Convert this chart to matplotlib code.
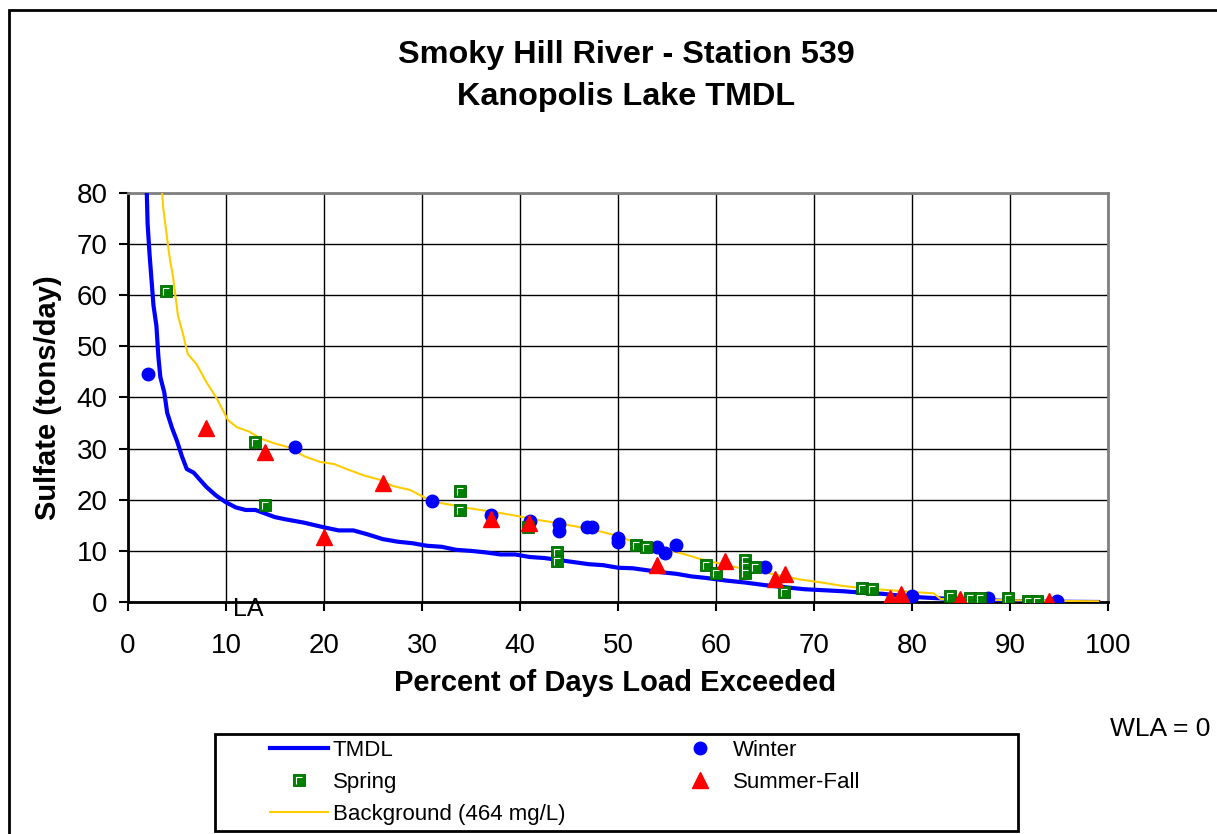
import matplotlib
matplotlib.use("Agg")
import matplotlib.pyplot as plt
from matplotlib.path import Path
from matplotlib.patches import Rectangle

plt.rcParams['font.family'] = ['Liberation Sans', 'DejaVu Sans']

# ---- data ----
tmdl_x = [1.85, 2.0, 2.2, 2.4, 2.6, 2.9, 3.1, 3.3, 3.7, 4.0, 4.5, 5.0, 5.5, 6.0, 6.7, 7.3,
          8.0, 9.0, 10.0, 11.0, 12.0, 13.0, 14.0, 15.0, 16.0, 18.0, 20.0, 21.5, 23.0, 24.5,
          26.0, 27.5, 29.0, 30.5, 32.0, 33.5, 35.0, 36.5, 38.0, 39.5, 41.0, 42.5, 44.0, 45.5,
          47.0, 48.5, 50.0, 51.5, 53.0, 54.5, 56.0, 57.5, 59.0, 61.0, 63.0, 65.0, 67.0, 69.0,
          71.0, 73.0, 75.0, 77.0, 79.0, 81.0, 83.0, 85.0, 87.0, 89.0, 91.0, 93.0, 95.0, 99.0]
tmdl_y = [85, 74, 68, 63, 58, 54, 48, 44, 41, 37, 34, 31.5, 28.5, 26, 25.3, 24,
          22.5, 20.8, 19.5, 18.5, 18, 18, 17.3, 16.6, 16.2, 15.5, 14.6, 14, 14, 13.2,
          12.3, 11.8, 11.5, 11, 10.8, 10.2, 10.0, 9.7, 9.3, 9.3, 8.8, 8.6, 8.2, 7.8,
          7.4, 7.2, 6.7, 6.6, 6.2, 5.8, 5.5, 5.0, 4.7, 4.2, 3.8, 3.3, 2.9, 2.5,
          2.3, 2.1, 1.8, 1.6, 1.2, 0.9, 0.7, 0.5, 0.4, 0.25, 0.15, 0.1, 0.05, 0.0]

bg_x = [3.4, 3.6, 4.0, 4.2, 4.6, 5.1, 5.6, 6.1, 7.0, 8.0, 9.0, 10.2, 11.1, 12.4, 13.5, 15.0,
        16.5, 18.0, 19.6, 21.0, 22.6, 24.0, 25.7, 27.0, 28.8, 31.1, 33.0, 34.6, 36.0, 38.0,
        39.5, 41.3, 43.0, 44.8, 46.5, 48.2, 50.0, 51.5, 53.3, 55.0, 56.7, 58.4, 60.0, 61.8,
        63.5, 65.2, 67.0, 68.6, 70.1, 71.5, 72.7, 74.5, 76.4, 78.5, 80.5, 82.2, 82.9, 85.0,
        88.0, 92.0, 95.0, 99.0]
bg_y = [82, 77, 71, 68, 63.5, 56, 52.5, 48.5, 46.5, 43, 40, 35.6, 34.2, 33.3, 32, 31,
        30.2, 28.5, 27.4, 27, 25.8, 24.8, 23.9, 22.7, 21.9, 19.6, 19, 18.4, 18, 17.4,
        16.9, 16.2, 15.7, 15.1, 14.5, 13.8, 12.9, 11.8, 11.0, 10.2, 9.4, 8.4, 7.7, 6.9,
        6.3, 5.7, 5.0, 4.4, 4.0, 3.6, 3.2, 2.8, 2.5, 2.2, 1.9, 1.7, 0.6, 0.5,
        0.4, 0.3, 0.2, 0.15]

winter_x = [2, 17, 31, 37, 41, 44, 44, 46.8, 47.3, 50, 50, 54, 54.8, 55.9, 65, 80, 87.8, 94.8]
winter_y = [44.5, 30.3, 19.8, 17, 15.8, 15.2, 13.9, 14.7, 14.7, 12.6, 11.8, 10.8, 9.6, 11.1,
            6.9, 1.2, 0.85, 0.25]

spring_x = [3.9, 13, 14, 33.9, 33.9, 40.8, 43.8, 43.8, 51.8, 52.9, 59, 60, 63, 63, 63, 64,
            66.9, 74.9, 75.9, 83.9, 85.9, 86.9, 89.8, 91.8, 92.8]
spring_y = [60.8, 31.2, 19, 21.8, 17.9, 14.7, 9.8, 8.0, 11.1, 10.8, 7.3, 5.7, 8.3, 7.0, 5.6, 6.9,
            2.0, 2.8, 2.5, 1.2, 0.85, 0.85, 0.85, 0.25, 0.25]

summer_x = [8, 14, 20, 26, 37, 40.9, 54, 60.9, 66, 67, 77.8, 78.9, 84.9, 94]
summer_y = [34, 29.3, 12.8, 23.3, 16.2, 15.5, 7.2, 8.0, 4.5, 5.4, 0.8, 1.6, 0.6, 0.1]

W, H = 1217, 834
fig = plt.figure(figsize=(W / 100, H / 100), dpi=100)
ax = fig.add_axes([128 / W, 1 - 602 / H, 980 / W, 409 / H])

ln_tmdl, = ax.plot(tmdl_x, tmdl_y, color='#0000FF', lw=3, zorder=3, label='TMDL')
ln_bg, = ax.plot(bg_x, bg_y, color='#FFCC00', lw=1.5, zorder=4, label='Background (464 mg/L)')
ln_win, = ax.plot(winter_x, winter_y, ls='none', marker='o', ms=9, color='#0000FF',
                  zorder=5, label='Winter')
ln_spr, = ax.plot(spring_x, spring_y, ls='none', marker='s', ms=8.4, mfc='#008000',
                  mec='#006400', mew=0.6, zorder=6)
# white corner highlight inside the spring squares
corner = Path([(-0.3, -0.35), (-0.3, 0.3), (0.3, 0.3)])
ln_spr2, = ax.plot(spring_x, spring_y, ls='none', marker=corner, ms=8.4 * 0.7,
                   mfc='none', mec='white', mew=0.8, zorder=6.1)
ln_sum, = ax.plot(summer_x, summer_y, ls='none', marker='^', ms=11, color='#FF0000',
                  zorder=7, label='Summer-Fall')

ax.set_xlim(0, 100)
ax.set_ylim(0, 80)
ax.set_xticks(range(0, 101, 10))
ax.set_yticks(range(0, 81, 10))
ax.grid(True, color='black', lw=1)
ax.set_axisbelow(True)
for s in ['left', 'bottom']:
    ax.spines[s].set_linewidth(2)
    ax.spines[s].set_color('black')
for s in ['top', 'right']:
    ax.spines[s].set_linewidth(2)
    ax.spines[s].set_color('#808080')
ax.tick_params(axis='both', direction='out', length=6.5, width=1.5, labelsize=20, color='black')
ax.tick_params(axis='x', pad=16)
ax.tick_params(axis='y', pad=8)

ax.set_xlabel('Percent of Days Load Exceeded', fontsize=21, fontweight='bold', va='center')
ax.xaxis.set_label_coords(0.497, (602 - 683) / 409)
ax.set_ylabel('Sulfate (tons/day)', fontsize=21, fontweight='bold', va='center')
ax.yaxis.set_label_coords((48 - 128) / 980, 0.5)

ax.text(10.7, 0.9, 'LA', fontsize=18, ha='left', va='top', zorder=8)

fig.text(626 / W, 1 - 55 / H, 'Smoky Hill River - Station 539', fontsize=23.3,
         fontweight='bold', ha='center', va='center')
fig.text(626 / W, 1 - 97 / H, 'Kanopolis Lake TMDL', fontsize=23.3,
         fontweight='bold', ha='center', va='center')
fig.text(1110 / W, 1 - 729 / H, 'WLA = 0', fontsize=19, ha='left', va='center')

# outer chart border (runs off the right and bottom edges)
fig.patches.append(Rectangle((9 / W, -0.1), 1.2, 1 - 10 / H + 0.1, transform=fig.transFigure,
                             fill=False, ec='black', lw=2, clip_on=False))
# legend box
fig.patches.append(Rectangle((215 / W, 1 - 831 / H), 803 / W, 97 / H, transform=fig.transFigure,
                             fill=False, ec='black', lw=2))

leg = fig.legend([ln_tmdl, (ln_spr, ln_spr2), ln_bg, ln_win, ln_sum],
                 ['TMDL', 'Spring', 'Background (464 mg/L)', 'Winter', 'Summer-Fall'],
                 ncol=2, loc='upper left', bbox_to_anchor=(270 / W, 1 - 740 / H),
                 frameon=False, fontsize=16, borderpad=0, borderaxespad=0,
                 handlelength=2.6, handletextpad=0.22, columnspacing=4.75,
                 labelspacing=0.5, markerscale=1.0)

fig.savefig('out.png', dpi=100)
